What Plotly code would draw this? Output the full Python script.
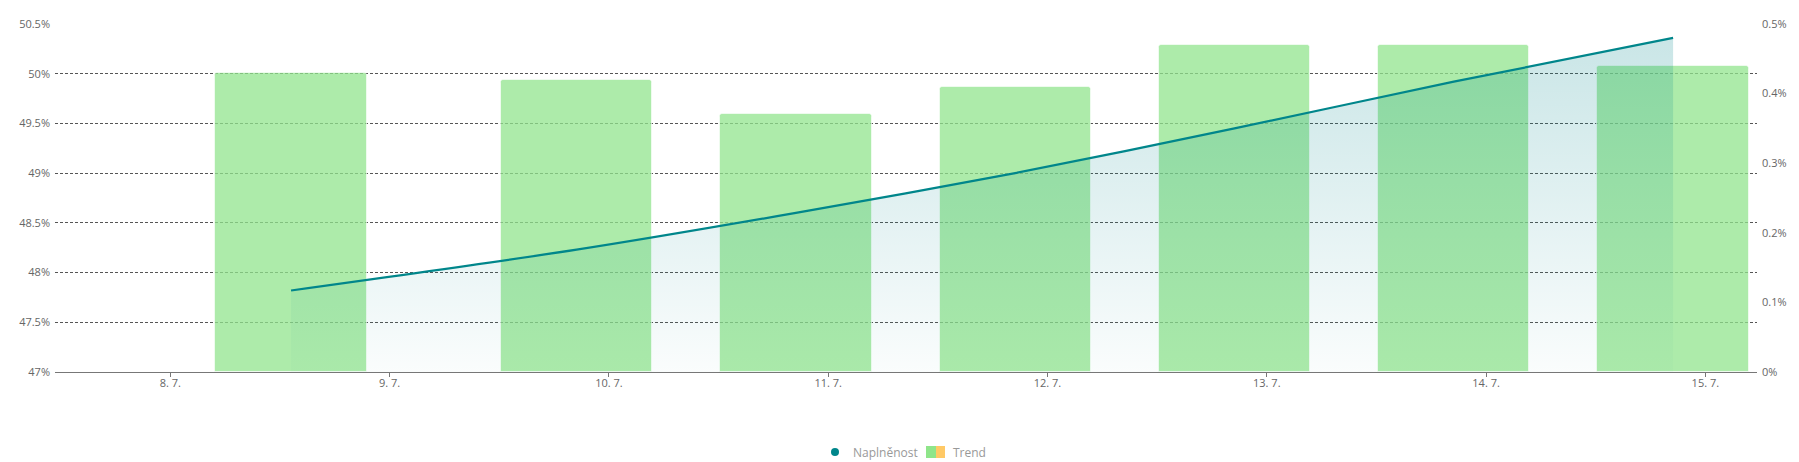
import plotly.graph_objects as go

# ---- data ----
timestamps = [
    "2024-07-08 13:13", "2024-07-09 20:28", "2024-07-10 20:28", "2024-07-11 20:28",
    "2024-07-12 20:28", "2024-07-13 20:28", "2024-07-14 20:28",
]
naplnenost = [47.82, 48.23, 48.60, 49.00, 49.45, 49.92, 50.36]   # % (left axis)
trend = [0.43, 0.42, 0.37, 0.41, 0.47, 0.47, 0.44]              # % (right axis)
tick_dates = ["2024-07-08", "2024-07-09", "2024-07-10", "2024-07-11",
              "2024-07-12", "2024-07-13", "2024-07-14", "2024-07-15"]
right_ticks = [0, 0.1, 0.2, 0.3, 0.4, 0.5]
right_labels = ["0%", "0.1%", "0.2%", "0.3%", "0.4%", "0.5%"]
series_names = ["Naplněnost", "Trend"]
x_range = ["2024-07-07 11:23", "2024-07-15 05:39"]
left_range = [47, 50.5]
right_range = [0, 0.5]

TEAL = "rgb(0,134,139)"
BAR = "rgba(146,228,142,0.75)"
LEG_GREEN = "#8FE58A"
ORANGE = "#FFC966"
FONT = "Open Sans, Noto Sans, sans-serif"
LABEL = "#666666"
LEGEND_TXT = "#999999"
DAY_MS = 86400000

W, H = 1799, 462
ML, MR, MT, MB = 55, 42, 24, 90
PW, PH = W - ML - MR, H - MT - MB


def px_x(px):
    return (px - ML) / PW


def px_y(py):
    return (H - MB - py) / PH


fig = go.Figure()

# Trend bars (primary y, drawn first = underneath)
fig.add_trace(go.Bar(
    x=timestamps, y=trend, name=series_names[1], yaxis="y",
    width=0.69 * DAY_MS,
    marker=dict(color=BAR, line=dict(color="rgba(255,255,255,0.6)", width=1), cornerradius=3),
    showlegend=False,
))

# Naplněnost line + gradient area (overlay axis, drawn on top)
fig.add_trace(go.Scatter(
    x=timestamps, y=naplnenost, name=series_names[0], yaxis="y2", mode="lines",
    line=dict(color=TEAL, width=2.2, shape="spline", smoothing=0.8),
    fill="tozeroy",
    fillgradient=dict(type="vertical",
                      colorscale=[[0, "rgba(0,134,139,0.02)"], [1, "rgba(0,134,139,0.21)"]],
                      start=left_range[0], stop=max(naplnenost)),
    showlegend=False,
))

# ---- custom legend (bottom centre) ----
ly = 452
shapes = [
    dict(type="circle", xref="paper", yref="paper",
         x0=px_x(831), x1=px_x(839), y0=px_y(ly + 4), y1=px_y(ly - 4),
         fillcolor=TEAL, line=dict(width=0)),
    dict(type="rect", xref="paper", yref="paper",
         x0=px_x(926), x1=px_x(936), y0=px_y(ly + 6), y1=px_y(ly - 6),
         fillcolor=LEG_GREEN, line=dict(width=0)),
    dict(type="rect", xref="paper", yref="paper",
         x0=px_x(936), x1=px_x(945), y0=px_y(ly + 6), y1=px_y(ly - 6),
         fillcolor=ORANGE, line=dict(width=0)),
]
annotations = [
    dict(text=series_names[0], xref="paper", yref="paper", x=px_x(851), y=px_y(ly),
         xanchor="left", yanchor="middle", showarrow=False,
         font=dict(size=12, color=LEGEND_TXT)),
    dict(text=series_names[1], xref="paper", yref="paper", x=px_x(951), y=px_y(ly),
         xanchor="left", yanchor="middle", showarrow=False,
         font=dict(size=12, color=LEGEND_TXT)),
]

fig.update_layout(
    width=W, height=H,
    margin=dict(l=ML, r=MR, t=MT, b=MB, pad=0, autoexpand=False),
    paper_bgcolor="white", plot_bgcolor="white",
    font=dict(family=FONT, size=11, color=LABEL),
    bargap=0,
    showlegend=False,
    shapes=shapes,
    annotations=annotations,
    xaxis=dict(
        type="date", range=x_range, automargin=False,
        tickvals=tick_dates, tickformat="%-d. %-m.",
        showgrid=False, showline=True, linecolor="#777777", linewidth=1,
        ticks="outside", ticklen=4, tickcolor="#777777", ticklabelstandoff=-3,
        tickfont=dict(size=11, color=LABEL), zeroline=False,
    ),
    yaxis=dict(
        side="right", range=right_range, tickvals=right_ticks, ticktext=right_labels,
        showgrid=False, zeroline=False, showline=False, automargin=False,
        ticklabelstandoff=4,
        tickfont=dict(size=11, color=LABEL),
    ),
    yaxis2=dict(
        side="left", overlaying="y", range=left_range, dtick=0.5, tick0=47,
        ticksuffix="%", showgrid=True, gridcolor="#555555", griddash="3px,2px", gridwidth=1,
        zeroline=False, showline=False, automargin=False, ticklabelstandoff=4,
        tickfont=dict(size=11, color=LABEL),
    ),
)

fig.write_html(
    "out.html",
    config={"displayModeBar": False},
    post_script="document.body.style.margin='0';document.body.style.overflow='hidden';",
)
